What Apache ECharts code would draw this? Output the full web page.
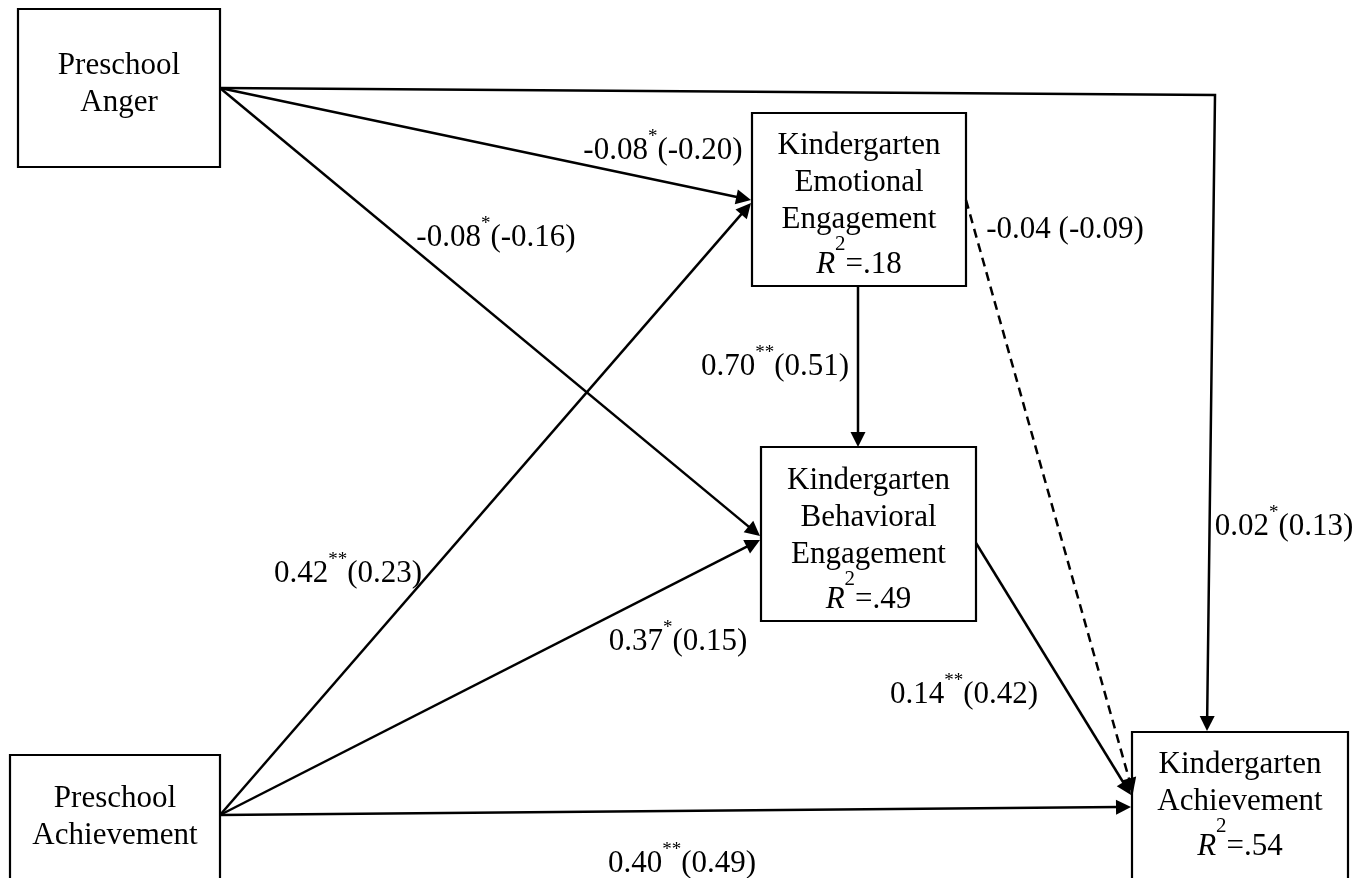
<!DOCTYPE html>
<html><head><meta charset="utf-8">
<script src="https://cdn.jsdelivr.net/npm/echarts@6/dist/echarts.min.js"></script>
<style>html,body{margin:0;padding:0;background:#fff}#c{width:1369px;height:878px}</style>
</head><body><div id="c"></div>
<script>
// ---------- data ----------
const nodeNames = ['Preschool\nAnger', 'Preschool\nAchievement', 'Kindergarten\nEmotional\nEngagement', 'Kindergarten\nBehavioral\nEngagement', 'Kindergarten\nAchievement'];
const nodeR2 = [null, null, '.18', '.49', '.54'];
const pathFrom = [0, 0, 0, 1, 1, 1, 2, 2, 3];
const pathTo   = [2, 3, 4, 2, 3, 4, 3, 4, 4];
const pathEst  = ['-0.08', '-0.08', '0.02', '0.42', '0.37', '0.40', '0.70', '-0.04', '0.14'];
const pathSig  = ['*', '*', '*', '**', '*', '**', '**', '', '**'];
const pathStd  = ['-0.20', '-0.16', '0.13', '0.23', '0.15', '0.49', '0.51', '-0.09', '0.42'];
const pathDashed = [false, false, false, false, false, false, false, true, false];

// ---------- layout (diagram units on hidden axes) ----------
const W = 1369, H = 878;
const boxRect = [[18, 9, 220, 167], [10, 755, 220, 892], [752, 113, 966, 286], [761, 447, 976, 621], [1132, 732, 1348, 892]];
const boxTextTop = [47, 780, 127, 462, 746];
const edgePoints = [
  [[220, 88], [751, 200]],
  [[220, 88], [760, 536]],
  [[220, 88], [1215, 95], [1207, 731]],
  [[220, 815], [751, 203]],
  [[220, 815], [760, 540]],
  [[220, 815], [1131, 807]],
  [[858, 286], [858, 447]],
  [[966, 200], [1133, 793]],
  [[976, 543], [1131, 795]]
];
const labelPos = [[663, 151], [496, 238], [1284, 527], [348, 574], [678, 642], [682, 864], [775, 367], [1065, 230], [964, 695]];

const FONT = "'Liberation Serif','Times New Roman',serif";
const LINE = 37;
const richStyles = {
  n: { fontSize: 31, fontFamily: FONT, fill: '#000', lineHeight: LINE },
  ln: { fontSize: 31, fontFamily: FONT, fill: '#000', lineHeight: 46 },
  s: { fontSize: 19, fontFamily: FONT, fill: '#000', lineHeight: 20, verticalAlign: 'top' },
  ri: { fontSize: 31, fontFamily: FONT, fontStyle: 'italic', fill: '#000', lineHeight: 61 },
  rn: { fontSize: 31, fontFamily: FONT, fill: '#000', lineHeight: 61 },
  sup: { fontSize: 21, fontFamily: FONT, fill: '#000', lineHeight: 6, verticalAlign: 'top' }
};

function boxText(i) {
  return nodeNames[i].split('\n').map(l => '{n|' + l + '}').join('\n');
}
function r2Text(i) {
  return '{ri|R}{sup|2}{rn|=' + nodeR2[i] + '}';
}
function pathText(i) {
  return '{ln|' + pathEst[i] + '}' + (pathSig[i] ? '{s|' + pathSig[i] + '}' : '{ln| }') + '{ln|(' + pathStd[i] + ')}';
}

const chart = echarts.init(document.getElementById('c'), null, { renderer: 'canvas' });
chart.setOption({
  backgroundColor: '#fff',
  animation: false,
  grid: { left: 0, right: 0, top: 0, bottom: 0 },
  xAxis: { type: 'value', min: 0, max: W, show: false },
  yAxis: { type: 'value', min: 0, max: H, inverse: true, show: false },
  series: [
    {
      type: 'custom', coordinateSystem: 'cartesian2d', z: 2, silent: true, clip: false,
      data: nodeNames.map((n, i) => [i, 0]),
      renderItem: function (params, api) {
        const i = params.dataIndex;
        const r = boxRect[i];
        const p1 = api.coord([r[0], r[1]]), p2 = api.coord([r[2], r[3]]);
        const cx = (r[0] + r[2]) / 2;
        const ct = api.coord([cx, boxTextTop[i]]);
        const nLines = nodeNames[i].split('\n').length;
        const children = [
          { type: 'rect', shape: { x: p1[0], y: p1[1], width: p2[0] - p1[0], height: p2[1] - p1[1] },
            style: { fill: '#fff', stroke: '#000', lineWidth: 2.2 } },
          { type: 'text', x: ct[0], y: ct[1],
            style: { text: boxText(i), rich: richStyles, align: 'center', verticalAlign: 'top', fontFamily: FONT, fontSize: 31, fill: '#000' } }
        ];
        if (nodeR2[i]) {
          const cr = api.coord([cx, boxTextTop[i] + nLines * LINE + 26.5]);
          children.push({ type: 'text', x: cr[0], y: cr[1],
            style: { text: r2Text(i), rich: richStyles, align: 'center', verticalAlign: 'middle', fontFamily: FONT, fontSize: 31, fill: '#000' } });
        }
        return { type: 'group', children: children };
      }
    },
    {
      type: 'custom', coordinateSystem: 'cartesian2d', z: 3, silent: true, clip: false,
      data: pathEst.map((v, i) => [i, 0]),
      renderItem: function (params, api) {
        const i = params.dataIndex;
        const pts = edgePoints[i].map(p => api.coord(p));
        const n = pts.length;
        const tx = pts[n - 1][0], ty = pts[n - 1][1];
        const dx = tx - pts[n - 2][0], dy = ty - pts[n - 2][1];
        const len = Math.hypot(dx, dy), ux = dx / len, uy = dy / len;
        const L = 15, Wd = 7.5;
        const bx = tx - ux * L, by = ty - uy * L;
        const linePts = pts.slice(0, n - 1).concat([[tx - ux * (L - 3), ty - uy * (L - 3)]]);
        return {
          type: 'group', children: [
            { type: 'polyline', shape: { points: linePts },
              style: { stroke: '#000', lineWidth: 2.5, fill: null, lineDash: pathDashed[i] ? [9, 6] : null } },
            { type: 'polygon', shape: { points: [[tx, ty], [bx - uy * Wd, by + ux * Wd], [bx + uy * Wd, by - ux * Wd]] },
              style: { fill: '#000' } }
          ]
        };
      }
    },
    {
      type: 'custom', coordinateSystem: 'cartesian2d', z: 4, silent: true, clip: false,
      data: pathEst.map((v, i) => [i, 0]),
      renderItem: function (params, api) {
        const i = params.dataIndex;
        const c = api.coord(labelPos[i]);
        return { type: 'text', x: c[0], y: c[1],
          style: { text: pathText(i), rich: richStyles, align: 'center', verticalAlign: 'middle', fontFamily: FONT, fontSize: 31, fill: '#000' } };
      }
    }
  ]
});
</script></body></html>
